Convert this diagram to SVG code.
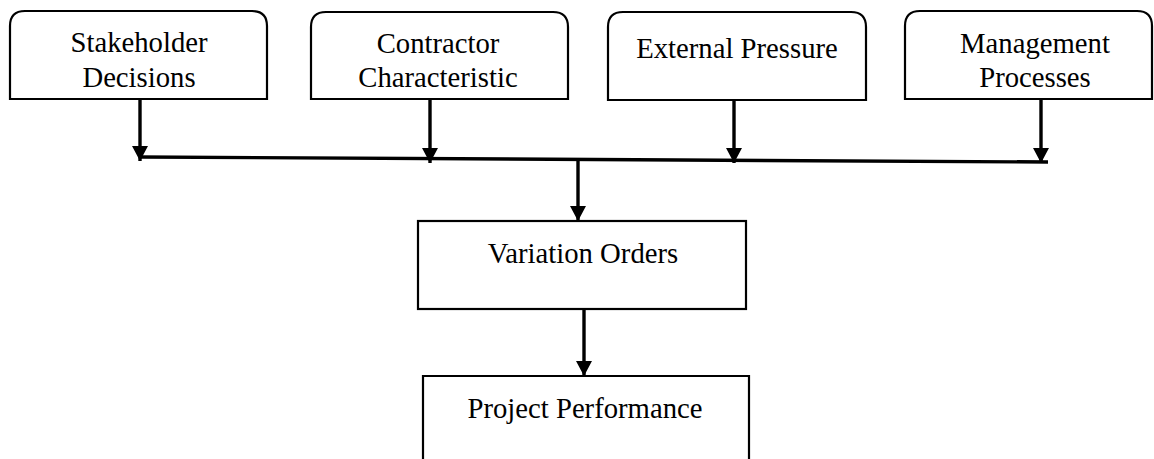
<svg xmlns="http://www.w3.org/2000/svg" width="1154" height="459" viewBox="0 0 1154 459">
<style>
.box{fill:#fff;stroke:#000;stroke-width:2.2}
.t{font-family:"Liberation Serif","Times New Roman",serif;font-size:28.7px;fill:#000;text-anchor:middle}
.c{fill:none;stroke:#000;stroke-width:3.4}
</style>
<defs>
<marker id="ah" markerUnits="userSpaceOnUse" markerWidth="17" markerHeight="17" viewBox="0 0 17 17" refX="15" refY="8.5" orient="auto">
<path d="M0,0.5 L15,8.5 L0,16.5 Z" fill="#000"/>
</marker>
</defs>
<rect width="1154" height="459" fill="#fff"/>
<g id="n1">
<path class="box" d="M10,99 L10,26 Q10,11 25,11 L252,11 Q267,11 267,26 L267,99 Z"/>
<text class="t" x="139" y="52">Stakeholder</text>
<text class="t" x="139" y="87">Decisions</text>
</g>
<g id="n2">
<path class="box" d="M311,99 L311,27 Q311,12 326,12 L553,12 Q568,12 568,27 L568,99 Z"/>
<text class="t" x="438" y="53">Contractor</text>
<text class="t" x="438" y="87">Characteristic</text>
</g>
<g id="n3">
<path class="box" d="M608,100 L608,27 Q608,12 623,12 L851,12 Q866,12 866,27 L866,100 Z"/>
<text class="t" x="737" y="58">External Pressure</text>
</g>
<g id="n4">
<path class="box" d="M905,99 L905,26 Q905,11 920,11 L1137,11 Q1152,11 1152,26 L1152,99 Z"/>
<text class="t" x="1035" y="53">Management</text>
<text class="t" x="1035" y="87">Processes</text>
</g>
<g id="n5">
<rect class="box" x="418" y="221" width="328" height="88"/>
<text class="t" x="583" y="263">Variation Orders</text>
</g>
<g id="n6">
<path class="box" d="M423,462 L423,376 L749,376 L749,462"/>
<text class="t" x="585" y="418">Project Performance</text>
</g>
<g id="connectors">
<line class="c" x1="140" y1="157" x2="1048" y2="162"/>
<line class="c" x1="140" y1="99" x2="140" y2="161" marker-end="url(#ah)"/>
<line class="c" x1="430" y1="99" x2="430" y2="163" marker-end="url(#ah)"/>
<line class="c" x1="734" y1="100" x2="734" y2="163" marker-end="url(#ah)"/>
<line class="c" x1="1041" y1="99" x2="1041" y2="163" marker-end="url(#ah)"/>
<line class="c" x1="578" y1="158" x2="578" y2="221" marker-end="url(#ah)"/>
<line class="c" x1="584" y1="310" x2="584" y2="376" marker-end="url(#ah)"/>
</g>
</svg>
